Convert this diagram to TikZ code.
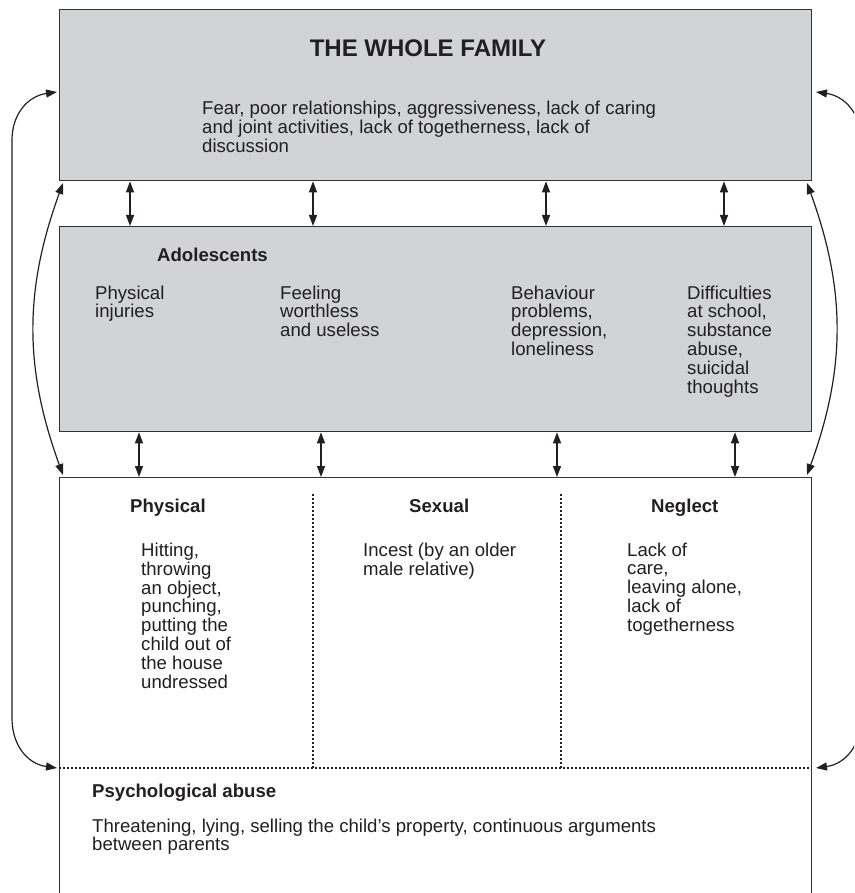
\documentclass[tikz,border=0pt]{standalone}
\usepackage{fontspec}
\setmainfont{Liberation Sans}
\usetikzlibrary{arrows.meta,calc}
\definecolor{boxgray}{HTML}{D1D3D4}
\definecolor{ink}{HTML}{231F20}
\definecolor{edge}{HTML}{333333}
\newcommand\txtlines[1]{\begin{tabular}[t]{@{}l@{}}#1\end{tabular}}
\begin{document}
\begin{tikzpicture}[x=1pt,y=-1pt,
  panel/.style={draw=edge,line width=1.3pt,anchor=north west,inner sep=0pt},
  txt/.style={anchor=base west,inner sep=0pt,text=ink,font=\fontsize{18.6}{18.4}\selectfont},
  head/.style={txt,font=\fontsize{18.6}{18.4}\selectfont\bfseries},
  tip/.tip={Triangle[length=11pt,width=8pt]},
  dbl/.style={tip-tip,line width=1.2pt,draw=ink},
  divider/.style={draw=ink,line width=1.1pt,dash pattern=on 1.5pt off 2.5pt}]
\useasboundingbox (0,0) rectangle (854,893);
\clip (0,0) rectangle (854,893);
% panels
\node[panel,fill=boxgray,minimum width=752pt,minimum height=171pt] (family) at (59,9) {};
\node[panel,fill=boxgray,minimum width=752pt,minimum height=205pt] (adol) at (59,226) {};
\node[panel,fill=white,minimum width=752pt,minimum height=440pt] (abuse) at (59,477) {};
% dividers
\coordinate (psyL) at (59,768);
\coordinate (psyR) at (811,768);
\draw[divider] (psyL) -- (psyR);
\coordinate (d1t) at (313,494);
\coordinate (d1b) at (313,768);
\coordinate (d2t) at (561,494);
\coordinate (d2b) at (561,768);
\draw[divider] (d1t) -- (d1b);
\draw[divider] (d2t) -- (d2b);
% texts
\node[head,anchor=base,font=\fontsize{24}{26}\selectfont\bfseries] (title) at (428,57) {THE WHOLE FAMILY};
\node[txt,font=\fontsize{18.6}{18}\selectfont] (famtext) at (202,115) {\txtlines{Fear, poor relationships, aggressiveness, lack of caring\\and joint activities, lack of togetherness, lack of\\discussion}};
\node[head] (adolhead) at (157,261) {Adolescents};
\node[txt] (a1) at (95,299) {\txtlines{Physical\\injuries}};
\node[txt] (a2) at (280,299) {\txtlines{Feeling\\worthless\\and useless}};
\node[txt] (a3) at (511,299) {\txtlines{Behaviour\\problems,\\depression,\\loneliness}};
\node[txt] (a4) at (687,299) {\txtlines{Difficulties\\at school,\\substance\\abuse,\\suicidal\\thoughts}};
\node[head] (physhead) at (130,512) {Physical};
\node[head] (sexhead) at (409,512) {Sexual};
\node[head] (neghead) at (651,512) {Neglect};
\node[txt] (phys) at (141,556) {\txtlines{Hitting,\\throwing\\an object,\\punching,\\putting the\\child out of\\the house\\undressed}};
\node[txt] (sex) at (363,556) {\txtlines{Incest (by an older\\male relative)}};
\node[txt] (neg) at (627,556) {\txtlines{Lack of\\care,\\leaving alone,\\lack of\\togetherness}};
\node[head] (psyhead) at (92,797) {Psychological abuse};
\node[txt,font=\fontsize{18.6}{17.7}\selectfont] (psy) at (92,832) {\txtlines{Threatening, lying, selling the child’s property, continuous arguments\\between parents}};
% vertical double arrows
\foreach \x in {130,313,546,724}
  \draw[dbl] (family.south -| \x,0) -- (adol.north -| \x,0);
\foreach \x in {139,321,557,735}
  \draw[dbl] (adol.south -| \x,0) -- (abuse.north -| \x,0);
% inner arcs
\coordinate (famBL) at (63,183);
\coordinate (abTL) at (63,475);
\coordinate (famBR) at (807,183);
\coordinate (abTR) at (807,475);
\draw[dbl] (famBL) to[out=-110,in=110] (abTL);
\draw[dbl] (famBR) to[out=-70,in=70] (abTR);
% outer loops
\coordinate (famL) at (57,92);
\coordinate (psyLa) at (57,768);
\coordinate (famR) at (816,92);
\coordinate (psyRa) at (816,768);
\draw[dbl] (famL) .. controls (28,96) and (12,114) .. (12,140) -- (12,718) .. controls (12,746) and (28,764) .. (psyLa);
\draw[dbl] (famR) .. controls (845,96) and (861,114) .. (861,140) -- (861,718) .. controls (861,746) and (845,764) .. (psyRa);
\end{tikzpicture}
\end{document}
